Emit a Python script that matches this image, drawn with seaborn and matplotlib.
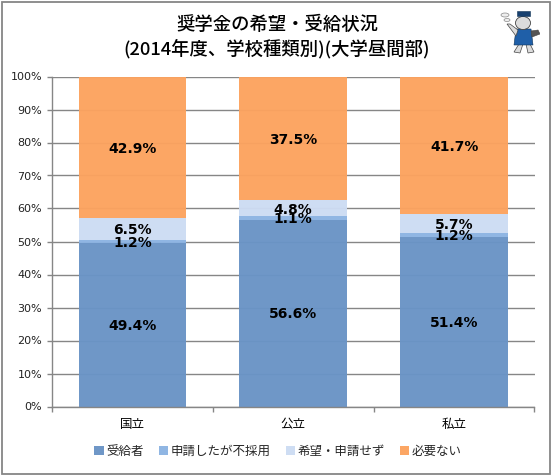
import numpy as np
import pandas as pd
import matplotlib
matplotlib.use("Agg")
import matplotlib.pyplot as plt
from matplotlib.patches import Rectangle, Ellipse, Polygon
import seaborn as sns

sns.set_theme(style="white")
plt.rcParams['font.family'] = ['Noto Sans CJK JP', 'DejaVu Sans']

categories = ["国立", "公立", "私立"]
series_names = ["受給者", "申請したが不採用", "希望・申請せず", "必要ない"]
recipients = [49.4, 56.6, 51.4]
rejected = [1.2, 1.1, 1.2]
not_applied = [6.5, 4.8, 5.7]
not_needed = [42.9, 37.5, 41.7]
colors = ["#6A94C6", "#8DB4E3", "#CDDCF3", "#FCA35F"]
title_text = "奨学金の希望・受給状況\n(2014年度、学校種類別)(大学昼間部)"

W, H = 551, 475
fig = plt.figure(figsize=(W / 100, H / 100), dpi=100, facecolor="white")
ax = fig.add_axes([52 / W, 1 - 406.5 / H, 482.5 / W, 330 / H])

values = [recipients, rejected, not_applied, not_needed]
bottom = np.zeros(3)
for name, vals, col in zip(series_names, values, colors):
    df = pd.DataFrame({"cat": categories, "v": vals})
    sns.barplot(data=df, x="cat", y="v", bottom=bottom, color=col, width=0.67,
                saturation=1, ax=ax, label=name, zorder=2, alpha=0.97, linewidth=0)
    for i, v in enumerate(vals):
        ax.annotate(f"{v:.1f}%", (i, bottom[i] + v / 2), xytext=(0, -1), textcoords="offset points",
                    ha="center", va="center", fontsize=10, fontweight="bold", color="black",
                    zorder=5, family=["DejaVu Sans"])
    bottom = bottom + np.array(vals)

ax.set_xlim(-0.5, 2.5)
ax.set_ylim(0, 100)
ax.set_xlabel("")
ax.set_ylabel("")
ax.set_yticks(np.arange(0, 101, 10))
ax.set_yticklabels([f"{t}%" for t in range(0, 101, 10)], fontsize=8, color="#222222",
                   family=["DejaVu Sans"])
ax.set_xticks([0, 1, 2])
ax.set_xticklabels(categories, fontsize=9, color="black", va="baseline")
ax.set_xticks([-0.5, 0.5, 1.5, 2.5], minor=True)
ax.grid(axis="y", color="#868686", lw=1, zorder=1)
ax.set_axisbelow(True)
ax.tick_params(axis="y", left=True, length=3.6, width=1, color="#868686", pad=3.5)
ax.tick_params(axis="x", which="major", bottom=False, pad=9.5)
ax.tick_params(axis="x", which="minor", bottom=True, length=3.6, width=1, color="#868686")
for s in ["top", "right"]:
    ax.spines[s].set_visible(False)
for s in ["left", "bottom"]:
    ax.spines[s].set_color("#868686")
    ax.spines[s].set_linewidth(1)

handles, labels = ax.get_legend_handles_labels()
ax.get_legend().remove()
fig.legend(handles, labels, loc="center", bbox_to_anchor=(278 / W, 1 - 451 / H), ncol=4,
           frameon=False, fontsize=9, handlelength=0.75, handleheight=0.75,
           handletextpad=0.2, columnspacing=1.2, borderpad=0)

fig.text(277 / W, 1 - 37 / H, title_text, ha="center", va="center", fontsize=13.2,
         fontweight="medium", color="black", linespacing=1.35)

fig.add_artist(Rectangle((1.5 / W, 1.5 / H), (W - 3) / W, (H - 3) / H, transform=fig.transFigure,
                         fill=False, ec="#868686", lw=1.3))

# small mascot decoration
m = fig.add_axes([500 / W, 1 - 54 / H, 40 / W, 44 / H])
m.set_xlim(500, 540); m.set_ylim(54, 10); m.axis("off")
skin = "#dcdcdc"; line = "#444444"; blue = "#1F5FA8"
m.add_patch(Polygon([[519, 44], [523, 44], [520, 53], [514, 52]], fc=skin, ec=line, lw=0.5))
m.add_patch(Polygon([[526, 44], [530, 44], [534, 52], [528, 53]], fc=skin, ec=line, lw=0.5))
m.add_patch(Polygon([[516, 29], [531, 29], [533, 45], [514, 45]], fc=blue, ec="#123456", lw=0.4))
m.add_patch(Polygon([[531, 31], [538, 30], [540, 34], [532, 37]], fc="#555555", ec=line, lw=0.4))
m.add_patch(Polygon([[507, 24], [510, 24], [518, 30], [516, 36]], fc=skin, ec=line, lw=0.5))
m.add_patch(Ellipse((523, 23), 15, 13, fc=skin, ec=line, lw=0.6))
m.add_patch(Rectangle((517, 11), 13, 5, fc="#17406F", ec="#123456", lw=0.4))
m.add_patch(Ellipse((505, 15), 8, 4, fc="#eeeeee", ec="#888888", lw=0.5))
m.add_patch(Ellipse((507, 20), 6, 3, fc="#eeeeee", ec="#888888", lw=0.5))

fig.savefig("out.png", dpi=100)
